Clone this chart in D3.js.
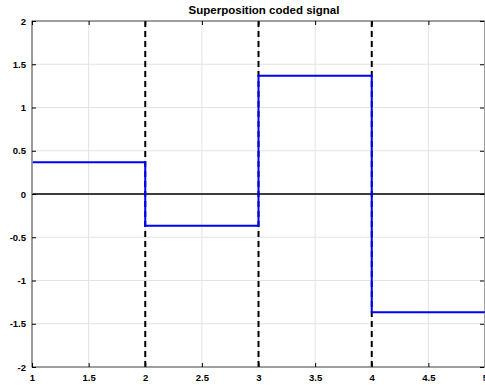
<!DOCTYPE html>
<html><head><meta charset="utf-8">
<script src="https://cdn.jsdelivr.net/npm/d3@7"></script>
<style>
html,body{margin:0;padding:0;background:#fff;overflow:hidden}
text{font-family:Arial,"Liberation Sans",sans-serif;font-weight:bold}
</style></head>
<body><svg id="c" width="485" height="385"></svg>
<script>
// Piecewise-constant coded signal: one level per symbol interval
const edges = [1, 2, 3, 4, 5];
const levels = [0.3679, -0.3679, 1.3679, -1.3679];
const boundaries = [2, 3, 4];
const xTicks = [1, 1.5, 2, 2.5, 3, 3.5, 4, 4.5, 5];
const yTicks = [-2, -1.5, -1, -0.5, 0, 0.5, 1, 1.5, 2];
const title = "Superposition coded signal";

const svg = d3.select("#c");
const L = 32, R = 485, T = 21, B = 367;
const x = d3.scaleLinear().domain([1, 5]).range([L, R]);
const y = d3.scaleLinear().domain([-2, 2]).range([B, T]);
const fmt = d => String(d);

// grid
const g = svg.append("g");
g.selectAll(".gx").data(xTicks).join("line")
  .attr("x1", d => x(d)).attr("x2", d => x(d)).attr("y1", T).attr("y2", B)
  .attr("stroke", "#e3e3e3").attr("stroke-width", 1);
g.selectAll(".gy").data(yTicks).join("line")
  .attr("x1", L).attr("x2", R).attr("y1", d => y(d)).attr("y2", d => y(d))
  .attr("stroke", "#e3e3e3").attr("stroke-width", 1);

// zero reference line
svg.append("line").attr("x1", L).attr("x2", R).attr("y1", y(0)).attr("y2", y(0))
  .attr("stroke", "#000").attr("stroke-width", 1.5);

// symbol boundaries
svg.selectAll(".bd").data(boundaries).join("line")
  .attr("x1", d => x(d)).attr("x2", d => x(d)).attr("y1", T).attr("y2", B)
  .attr("stroke", "#000").attr("stroke-width", 2).attr("stroke-dasharray", "6,4");

// signal
const pts = [];
levels.forEach((v, i) => { pts.push([edges[i], v]); pts.push([edges[i + 1], v]); });
svg.append("path").datum(pts)
  .attr("d", d3.line().x(d => x(d[0])).y(d => y(d[1])))
  .attr("fill", "none").attr("stroke", "#0000ff").attr("stroke-width", 2);

// axes box
const axG = svg.append("g");
axG.append("rect").attr("x", L).attr("y", T).attr("width", R - L).attr("height", B - T)
  .attr("fill", "none").attr("stroke", "#4d4d4d").attr("stroke-width", 1);
axG.append("line").attr("x1", L).attr("x2", L).attr("y1", T).attr("y2", B)
  .attr("stroke", "#9a9a9a").attr("stroke-width", 1.5);

const xb = axG.append("g").attr("transform", `translate(0,${B})`)
  .call(d3.axisBottom(x).tickValues(xTicks).tickSizeInner(-4).tickSizeOuter(0).tickPadding(7).tickFormat(fmt));
const xt = axG.append("g").attr("transform", `translate(0,${T})`)
  .call(d3.axisTop(x).tickValues(xTicks).tickSizeInner(-4).tickSizeOuter(0).tickFormat(""));
const yl = axG.append("g").attr("transform", `translate(${L},0)`)
  .call(d3.axisLeft(y).tickValues(yTicks).tickSizeInner(-4).tickSizeOuter(0).tickPadding(6).tickFormat(fmt));
const yr = axG.append("g").attr("transform", `translate(${R - 1},0)`)
  .call(d3.axisRight(y).tickValues(yTicks).tickSizeInner(-4).tickSizeOuter(0).tickFormat(""));
[xb, xt, yl, yr].forEach(a => {
  a.select(".domain").remove();
  a.selectAll("line").attr("stroke", "#000");
  a.selectAll("text").attr("fill", "#000").style("font-size", "9.5px")
    .style("font-family", "Arial, 'Liberation Sans', sans-serif").style("font-weight", "bold");
});

svg.append("text").attr("x", 264).attr("y", 14).attr("text-anchor", "middle")
  .style("font-size", "11.5px").attr("fill", "#000").text(title);
</script></body></html>
